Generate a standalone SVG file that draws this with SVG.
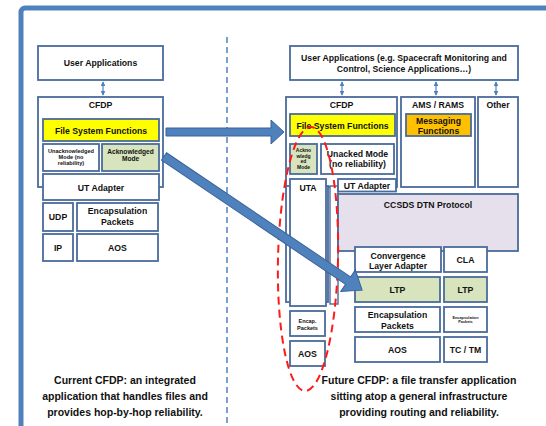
<svg xmlns="http://www.w3.org/2000/svg" width="546" height="426" viewBox="0 0 546 426">
<defs>
<style>
.b{fill:#fff;stroke:#4a6b9c;stroke-width:1.8}
.y{fill:#ffff00}
.g{fill:#d7e4bd}
.o{fill:#ffc000}
.l{fill:#e5e0ec}
text{font-family:"Liberation Sans",Arial,sans-serif;font-weight:bold;fill:#111;text-anchor:middle}
.t{font-size:8.7px}
.s{font-size:8.7px}
.c{font-size:10.5px}
.thin{stroke:#4f81bd;stroke-width:1.2;fill:none;marker-start:url(#ah);marker-end:url(#ah)}
.blk{fill:#4f81bd;stroke:#3a639a;stroke-width:1}
</style>
<marker id="ah" viewBox="0 0 6 6" refX="5" refY="3" markerWidth="4" markerHeight="4" orient="auto-start-reverse"><path d="M0,0 L6,3 L0,6 Z" fill="#4f81bd"/></marker>
</defs>
<rect width="546" height="426" fill="#fff"/>
<rect x="21" y="8" width="560" height="440" rx="4" fill="none" stroke="#4f81bd" stroke-width="5"/>
<line x1="227" y1="37" x2="227" y2="426" stroke="#7aa0d0" stroke-width="2" stroke-dasharray="6,4"/>

<g id="left-user-apps"><rect class="b" x="38" y="46" width="125" height="34"/><text class="t" x="100.5" y="66">User Applications</text></g>
<g id="left-cfdp"><rect class="b" x="38" y="97" width="125" height="90"/><text class="t" x="100.5" y="108">CFDP</text></g>
<g id="left-fsf"><rect class="b y" x="43" y="119" width="116" height="22"/><text class="t" x="101" y="133.5">File System Functions</text></g>
<g id="left-unack"><rect class="b" x="43" y="144" width="56" height="27"/><text style="font-size:5.6px" x="71" y="153">Unacknowledged</text><text style="font-size:5.6px" x="71" y="159">Mode (no</text><text style="font-size:5.6px" x="71" y="165">reliability)</text></g>
<g id="left-ack"><rect class="b g" x="102" y="144" width="57" height="27"/><text style="font-size:6.6px" x="130.5" y="154">Acknowledged</text><text style="font-size:6.6px" x="130.5" y="161">Mode</text></g>
<g id="left-uta"><rect class="b" x="43" y="174" width="116" height="26"/><text class="t" x="101" y="190.5">UT Adapter</text></g>
<g id="left-udp"><rect class="b" x="43" y="203" width="30" height="28"/><text class="t" x="58" y="220">UDP</text></g>
<g id="left-encap"><rect class="b" x="77" y="203" width="81" height="28"/><text class="t" x="117.5" y="214">Encapsulation</text><text class="t" x="117.5" y="224.5">Packets</text></g>
<g id="left-ip"><rect class="b" x="43" y="234" width="30" height="27"/><text class="t" x="58" y="250.5">IP</text></g>
<g id="left-aos"><rect class="b" x="77" y="234" width="81" height="27"/><text class="t" x="117.5" y="250.5">AOS</text></g>
<g id="left-caption"><text class="c" x="125" y="384">Current CFDP: an integrated</text><text class="c" x="125" y="400">application that handles files and</text><text class="c" x="125" y="416">provides hop-by-hop reliability.</text></g>

<g id="right-user-apps"><rect class="b" x="290" y="46" width="228" height="34"/><text class="s" x="404" y="61">User Applications (e.g. Spacecraft Monitoring and</text><text class="s" x="404" y="71.5">Control, Science Applications…)</text></g>
<g id="right-cfdp"><rect class="b" x="286" y="97" width="111" height="90"/><text class="t" x="341.5" y="108">CFDP</text></g>
<g id="right-fsf"><rect class="b y" x="290" y="114" width="105" height="22"/><text class="t" x="342.5" y="128.5">File System Functions</text></g>
<g id="right-ack"><rect class="b g" x="290" y="144" width="27" height="30"/><text style="font-size:5px" x="303.5" y="152">Ackno</text><text style="font-size:5px" x="303.5" y="157.5">wledg</text><text style="font-size:5px" x="303.5" y="163">ed</text><text style="font-size:5px" x="303.5" y="169">Mode</text></g>
<g id="right-unacked"><rect class="b" x="321" y="144" width="73" height="30"/><text class="t" x="357.5" y="156.5">Unacked Mode</text><text class="t" x="357.5" y="166.5">(no reliability)</text></g>
<g id="ams"><rect class="b" x="401" y="97" width="74" height="90"/><text class="t" x="438" y="108">AMS / RAMS</text></g>
<g id="messaging"><rect class="b o" x="406" y="114" width="65" height="22"/><text class="t" x="438.5" y="123.5">Messaging</text><text class="t" x="438.5" y="133.5">Functions</text></g>
<g id="other"><rect class="b" x="478" y="97" width="40" height="90"/><text class="t" x="498" y="108">Other</text></g>
<g id="right-back1"><rect class="b" x="286" y="186" width="42" height="116"/></g>
<g id="right-uta"><rect class="b" x="290" y="179" width="36" height="127"/><text class="t" x="308" y="191">UTA</text></g>
<g id="right-back2"><rect class="b" x="330" y="186" width="8" height="118" style="stroke-width:1.4"/></g>
<g id="right-ut-adapter"><rect class="b" x="338" y="179" width="58" height="12.5"/><text class="t" x="367" y="188.8">UT Adapter</text></g>
<g id="dtn"><rect class="b l" x="338" y="194" width="180" height="57"/><text class="t" x="428" y="207.5">CCSDS DTN Protocol</text></g>
<g id="conv"><rect class="b" x="355" y="247" width="86" height="25"/><text class="t" x="398" y="258.5">Convergence</text><text class="t" x="398" y="268.8">Layer Adapter</text></g>
<g id="cla"><rect class="b" x="444" y="247" width="43" height="25"/><text class="t" x="465.5" y="262.5">CLA</text></g>
<g id="ltp1"><rect class="b g" x="355" y="277" width="85" height="25"/><text class="t" x="397.5" y="292.5">LTP</text></g>
<g id="ltp2"><rect class="b g" x="444" y="277" width="43" height="25"/><text class="t" x="465.5" y="292.5">LTP</text></g>
<g id="encap1"><rect class="b" x="355" y="307" width="85" height="25"/><text class="t" x="397.5" y="317.7">Encapsulation</text><text class="t" x="397.5" y="328.7">Packets</text></g>
<g id="encap2"><rect class="b" x="444" y="307" width="43" height="25"/><text style="font-size:3.8px" x="465.5" y="318.5">Encapsulation</text><text style="font-size:3.8px" x="465.5" y="323">Packets</text></g>
<g id="aos1"><rect class="b" x="355" y="337" width="85" height="25"/><text class="t" x="397.5" y="352.5">AOS</text></g>
<g id="tctm"><rect class="b" x="444" y="337" width="43" height="25"/><text class="t" x="465.5" y="352.5">TC / TM</text></g>
<g id="encap-small"><rect class="b" x="290" y="311" width="35" height="25"/><text style="font-size:5.5px" x="307.5" y="322.5">Encap.</text><text style="font-size:5.5px" x="307.5" y="330">Packets</text></g>
<g id="aos-small"><rect class="b" x="290" y="341" width="35" height="25"/><text class="t" x="307.5" y="357">AOS</text></g>
<g id="right-caption"><text class="c" x="419" y="384">Future CFDP: a file transfer application</text><text class="c" x="419" y="400">sitting atop a general infrastructure</text><text class="c" x="419" y="416">providing routing and reliability.</text></g>

<g id="highlight"><ellipse cx="308" cy="259" rx="30" ry="132" transform="rotate(1.3 308 259)" fill="none" stroke="#ff1a1a" stroke-width="2" stroke-dasharray="8,5"/></g>

<g id="connectors">
<line class="thin" x1="103" y1="82" x2="103" y2="95"/>
<line class="thin" x1="342" y1="82" x2="342" y2="95"/>
<line class="thin" x1="436" y1="82" x2="436" y2="95"/>
<line class="thin" x1="496" y1="82" x2="496" y2="95"/>
<path class="blk" d="M166,128 L271,128 L271,120 L284,132 L271,144 L271,136 L166,136 Z"/>
<path class="blk" d="M0,-4.5 L222,-4.5 L222,-13 L239,0 L222,13 L222,4.5 L0,4.5 Z" transform="translate(164 156.5) rotate(34)"/>
</g>
</svg>
